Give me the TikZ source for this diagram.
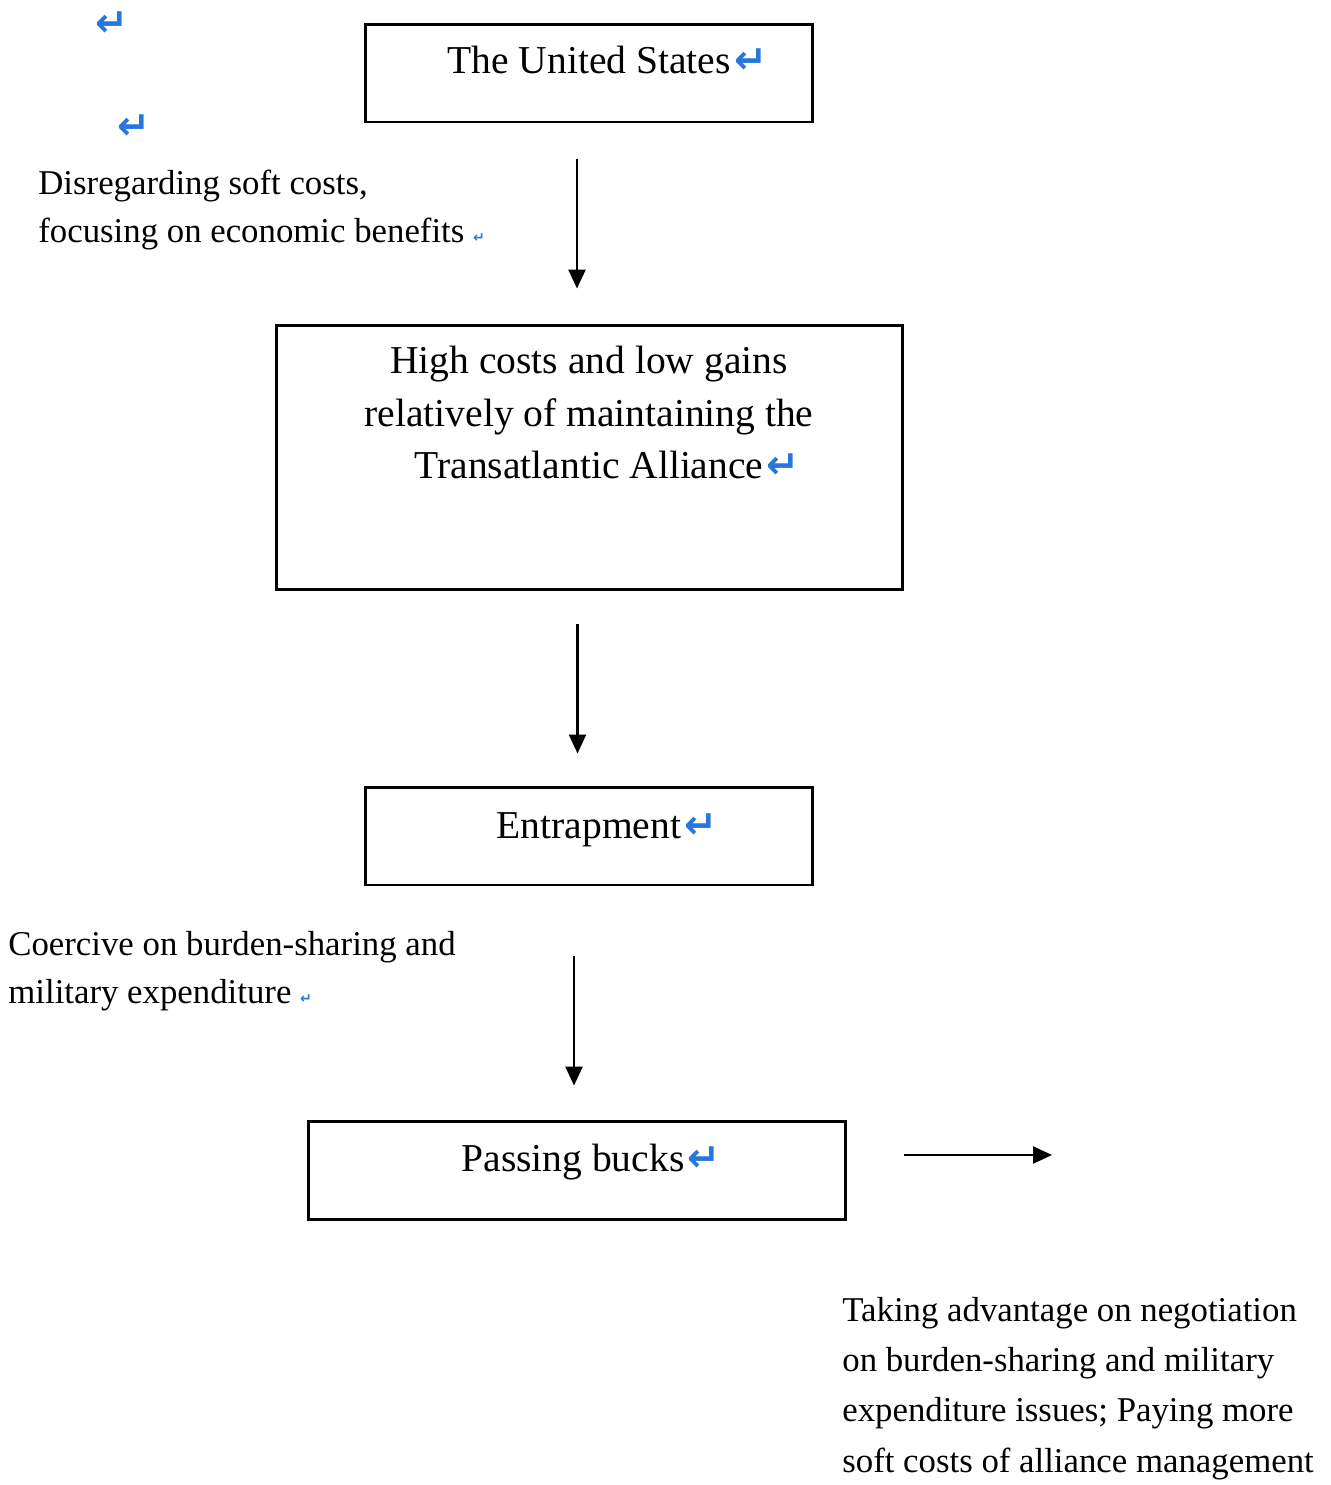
\documentclass[tikz,border=0pt]{standalone}
\usepackage{fontspec}
\setmainfont{Liberation Serif}
\newfontfamily\markfont{DejaVu Sans}
\usetikzlibrary{arrows.meta, positioning}
\definecolor{MarkBlue}{RGB}{38,118,222}
\newcommand{\retmark}{{\markfont\bfseries\color{MarkBlue}\char"21B5}}
\newcommand{\brkmark}{{\markfont\bfseries\fontsize{8}{8}\selectfont\color{MarkBlue}\char"21B5}}
\newcommand{\boxfont}{\fontsize{22.5}{29.6}\selectfont}
\newcommand{\sidefont}{\fontsize{19.8}{26.8}\selectfont}

\begin{document}
\begin{tikzpicture}[x=0.02cm, y=-0.02cm,
	stage/.style={draw, line width=1.7pt, inner sep=0pt},
	stagetext/.style={font=\boxfont, align=center, anchor=base, inner sep=0pt},
	sidetext/.style={font=\sidefont, align=left, anchor=base west, inner sep=0pt},
	flow/.style={-{Triangle[length=0.38cm, width=0.34cm]}, line width=1.4pt}]
	\useasboundingbox (0,0) rectangle (1330,1485);
	% marcas de párrafo sueltas
	\node[font=\boxfont, inner sep=0pt] (mark1) at (112,24) {\retmark};
	\node[font=\boxfont, inner sep=0pt] (mark2) at (134,127) {\retmark};
	% cajas
	\node[stage, minimum width=8.96cm, minimum height=1.96cm] (us) at (589,73) {};
	\node[stage, minimum width=12.54cm, minimum height=5.3cm] (cost) at (589.5,457.5) {};
	\node[stage, minimum width=8.96cm, minimum height=1.96cm] (trap) at (589,836) {};
	\node[stage, minimum width=10.76cm, minimum height=1.96cm] (buck) at (577,1170) {};
	% textos de las cajas (base = última línea)
	\node[stagetext] (ustxt) at (589,73) {The United States\rlap{\kern2pt\retmark}};
	\node[stagetext] (costtxt) at (589,478) {High costs and low gains\\relatively of maintaining the\\Transatlantic Alliance\rlap{\kern2pt\retmark}};
	\node[stagetext] (traptxt) at (589,838) {Entrapment\rlap{\kern2pt\retmark}};
	\node[stagetext] (bucktxt) at (573,1171) {Passing bucks\rlap{\kern2pt\retmark}};
	% textos laterales
	\node[sidetext] (soft) at (38,242) {Disregarding soft costs,\\focusing on economic benefits \brkmark};
	\node[sidetext] (coerce) at (8,1003) {Coercive on burden-sharing and\\military expenditure \brkmark};
	\node[sidetext, font=\fontsize{19.8}{28.6}\selectfont] (advantage) at (842,1472) {Taking advantage on negotiation\\on burden-sharing and military\\expenditure issues; Paying more\\soft costs of alliance management};
	% flechas
	\draw[flow, shorten <=0.72cm, shorten >=0.7cm] ([xshift=-0.24cm]us.south) -- ([xshift=-0.24cm]us.south |- cost.north);
	\draw[flow, shorten <=0.66cm, shorten >=0.64cm] ([xshift=-0.24cm]cost.south) -- ([xshift=-0.24cm]cost.south |- trap.north);
	\draw[flow, shorten <=1.4cm, shorten >=0.68cm] ([xshift=-0.3cm]trap.south) -- ([xshift=-0.3cm]trap.south |- buck.north);
	\coordinate (outend) at (1052,1155);
	\draw[flow, shorten <=1.14cm] (buck.east |- outend) -- (outend);
\end{tikzpicture}
\end{document}
